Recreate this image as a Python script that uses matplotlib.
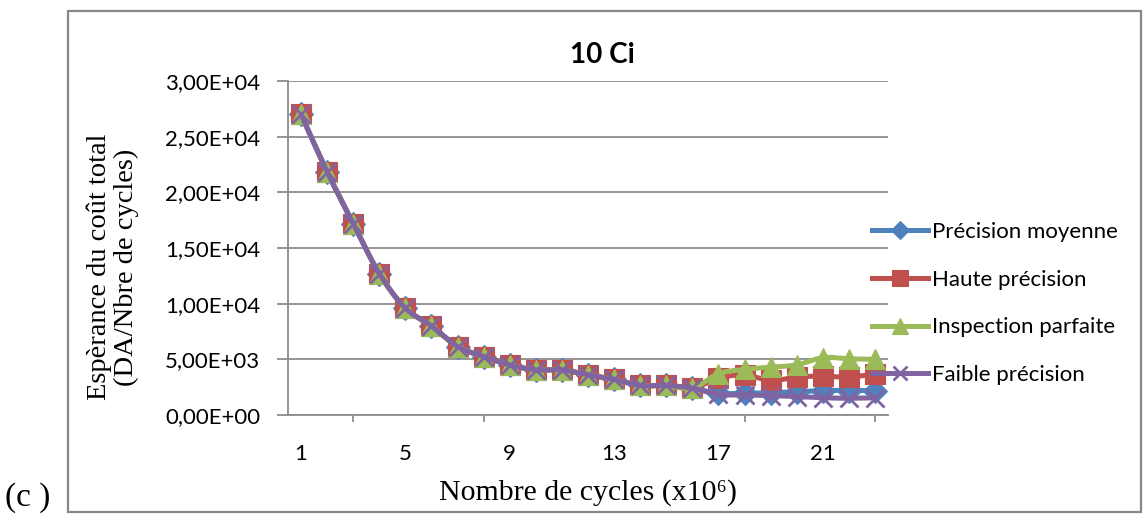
import numpy as np
import matplotlib
matplotlib.use("Agg")
import matplotlib.pyplot as plt
from matplotlib.lines import Line2D
from matplotlib.patches import Rectangle
from matplotlib.ticker import FuncFormatter, FixedLocator

# ---- data -------------------------------------------------------------
cycles = list(range(1, 24))
common = [27000, 21850, 17200, 12700, 9600, 8000, 6150, 5250, 4500, 4050,
          4050, 3600, 3200, 2650, 2650, 2400]

precision_moyenne = common + [1950, 1950, 2000, 2100, 2200, 2200, 2200]
haute_precision = common + [3300, 3600, 3100, 3400, 3500, 3400, 3700]
inspection_parfaite = common + [3700, 4100, 4300, 4500, 5150, 5050, 5000]
faible_precision = common + [1850, 1800, 1750, 1650, 1550, 1500, 1550]

series_names = ["Précision moyenne", "Haute précision",
                "Inspection parfaite", "Faible précision"]
series_values = [precision_moyenne, haute_precision,
                 inspection_parfaite, faible_precision]
x_tick_labels = ["1", "5", "9", "13", "17", "21"]

title_text = "10 Ci"
ylabel_text = "Espèrance du coût total\n(DA/Nbre de cycles)"
xlabel_text = "Nombre de cycles (x10⁶)"
panel_text = "(c )"

# ---- styling ------------------------------------------------------------
SANS = ["Lato", "DejaVu Sans"]
SERIF = ["Liberation Serif", "DejaVu Serif"]
colors = ["#4F81BD", "#C0504D", "#9BBB59", "#8064A2"]
markers = ["D", "s", "^", "x"]
msizes = [12, 15, 15, 13]
GRID = "#8C8C8C"

W, H, DPI = 1144, 516, 100


def smooth(x, y, n=24):
    """Catmull-Rom curve through the points (smoothed line rendering)."""
    pts = np.column_stack([x, y]).astype(float)
    P = np.vstack([pts[0], pts, pts[-1]])
    t = np.linspace(0, 1, n, endpoint=False)[:, None]
    segs = []
    for i in range(1, len(P) - 2):
        p0, p1, p2, p3 = P[i - 1], P[i], P[i + 1], P[i + 2]
        seg = 0.5 * ((2 * p1) + (-p0 + p2) * t
                     + (2 * p0 - 5 * p1 + 4 * p2 - p3) * t ** 2
                     + (-p0 + 3 * p1 - 3 * p2 + p3) * t ** 3)
        segs.append(seg)
    segs.append(pts[-1:])
    out = np.vstack(segs)
    return out[:, 0], out[:, 1]


fig = plt.figure(figsize=(W / DPI, H / DPI), dpi=DPI)
ax = fig.add_axes([288 / W, 1 - 415 / H, 600 / W, 334 / H])

for i, (name, vals) in enumerate(zip(series_names, series_values)):
    sx, sy = smooth(cycles, vals)
    ax.plot(sx, sy, color=colors[i], lw=3.6, solid_capstyle="round",
            zorder=3 + 2 * i)
    ax.plot(cycles, vals, ls="none", marker=markers[i], ms=msizes[i],
            color=colors[i], mec=colors[i], mew=2.0 if markers[i] == "x" else 0.8,
            zorder=4 + 2 * i)

ax.set_xlim(0.5, 23.5)
ax.set_ylim(0, 30000)
ax.yaxis.set_major_locator(FixedLocator(np.arange(0, 30001, 5000)))
ax.yaxis.set_major_formatter(FuncFormatter(
    lambda v, p: ("%.2E" % v).replace(".", ",")))
ax.set_xticks([int(s) for s in x_tick_labels])
ax.set_xticklabels(x_tick_labels)
ax.set_xticks([3, 8, 13, 18, 23], minor=True)
ax.tick_params(axis="x", which="major", length=0, pad=21, labelsize=16,
               labelcolor="black")
ax.tick_params(axis="x", which="minor", length=5, width=1.3, color=GRID)
ax.tick_params(axis="y", length=8, width=1.3, color=GRID, pad=12,
               labelsize=16, labelcolor="black")
for lab in ax.get_xticklabels() + ax.get_yticklabels():
    lab.set_family(SANS)

ax.grid(axis="y", color=GRID, lw=1.3)
ax.set_axisbelow(True)
for s in ["top", "right"]:
    ax.spines[s].set_visible(False)
for s in ["left", "bottom"]:
    ax.spines[s].set_color(GRID)
    ax.spines[s].set_linewidth(1.3)
ax.patch.set_alpha(0)

# legend
handles = [Line2D([], [], color=c, lw=3.6, marker=m, ms=ms * 0.75, mec=c,
                  mew=2.0 if m == "x" else 0.8)
           for c, m, ms in zip(colors, markers, msizes)]
leg = fig.legend(handles, series_names, loc="center left",
                 bbox_to_anchor=(872 / W, 1 - 303.5 / H),
                 frameon=False, prop={"family": SANS, "size": 16},
                 handlelength=2.5, handletextpad=0.18, labelspacing=1.25,
                 borderpad=0, borderaxespad=0)

# texts
fig.text(602 / W, 1 - 55 / H, title_text, ha="center", va="center",
         family=SANS, weight="bold", size=20)
fig.text(113 / W, 1 - 267 / H, ylabel_text, ha="center", va="center",
         rotation=90, family=SERIF, size=20.5, linespacing=1.08,
         multialignment="center")
fig.text(588 / W, 1 - 493 / H, xlabel_text, ha="center", va="center",
         family=SERIF, size=21.5)
fig.text(5 / W, 1 - 498 / H, panel_text, ha="left", va="center",
         family=SERIF, size=24)

# chart area frame
fig.add_artist(Rectangle((68 / W, 1 - 512 / H), (1141 - 68) / W, (512 - 11) / H,
                         transform=fig.transFigure, fill=False,
                         edgecolor="#888888", lw=1.6))

fig.savefig("out.png", dpi=DPI)
